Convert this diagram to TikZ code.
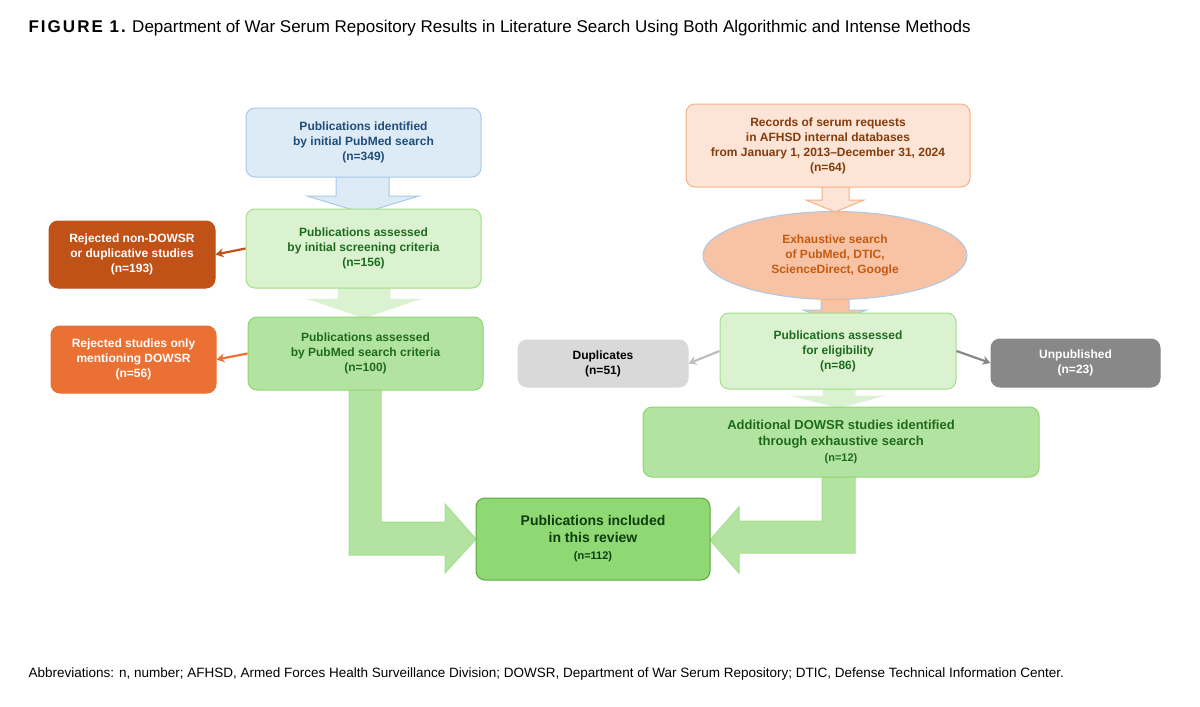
\documentclass[tikz,border=0pt]{standalone}
\usepackage{fontspec}
\setmainfont{Liberation Sans}
\usetikzlibrary{shapes.geometric,arrows.meta}
\definecolor{blF}{HTML}{DDEBF7}\definecolor{blD}{HTML}{A9C8EA}\definecolor{blT}{HTML}{1F4E79}
\definecolor{gLF}{HTML}{DAF2D0}\definecolor{gLD}{HTML}{A3DE88}\definecolor{gT}{HTML}{1E6B1E}
\definecolor{gMF}{HTML}{B3E3A0}\definecolor{gMD}{HTML}{8FD672}
\definecolor{gDF}{HTML}{8ED973}\definecolor{gDD}{HTML}{5AA83A}\definecolor{gDT}{HTML}{0F3D0F}
\definecolor{or1}{HTML}{C05117}\definecolor{or2}{HTML}{EA7133}
\definecolor{pkF}{HTML}{FCE4D6}\definecolor{pkD}{HTML}{F4B183}\definecolor{pkT}{HTML}{843C0C}
\definecolor{elF}{HTML}{F8C3A5}\definecolor{elT}{HTML}{C55A11}
\definecolor{gr1}{HTML}{D9D9D9}\definecolor{gr2}{HTML}{888888}
\begin{document}
\begin{tikzpicture}[x=1pt,y=-1pt,
 box/.style={rounded corners=9pt,draw,line width=1pt,align=center,font=\bfseries\fontsize{12}{15}\selectfont,inner sep=0pt},
 small/.style={line width=2.2pt,-{Stealth[length=8pt,width=9pt]}}]
\useasboundingbox (0,0) rectangle (1200,707);
\node[anchor=west,font=\fontsize{17}{20}\selectfont] (title) at (25,28) {{\bfseries\addfontfeature{LetterSpace=12}FIGURE 1.} Department of War Serum Repository Results in Literature Search Using Both Algorithmic and Intense Methods};
\node[anchor=west,font=\fontsize{13.5}{16}\selectfont] (foot) at (25,674) {Abbreviations: n, number; AFHSD, Armed Forces Health Surveillance Division; DOWSR, Department of War Serum Repository; DTIC, Defense Technical Information Center.};
% block arrows
\draw[blD,fill=blF,line width=1pt] (336,176)--(389,176)--(389,196)--(419,196)--(363,213)--(307,196)--(336,196)--cycle;
\draw[gLF!80!white,fill=gLF,line width=1pt] (338,287)--(390,287)--(390,299)--(420,299)--(364,318)--(308,299)--(338,299)--cycle;
\draw[gMD!80!white,fill=gMF,line width=1pt] (349,389)--(381,389)--(381,522)--(445,522)--(445,504)--(476,539)--(445,573)--(445,555)--(349,555)--cycle;
\draw[gMD!80!white,fill=gMF,line width=1pt] (822,476)--(855,476)--(855,553)--(739,553)--(739,573)--(710,540)--(739,507)--(739,521)--(822,521)--cycle;
\draw[pkD,fill=pkF,line width=1pt] (822,186)--(849,186)--(849,200)--(864,200)--(835,212)--(806,200)--(822,200)--cycle;
\draw[blD,fill=elF,line width=1pt] (821,298)--(849,298)--(849,310)--(867,310)--(835,322)--(803,310)--(821,310)--cycle;
\draw[gLF!80!white,fill=gLF,line width=1pt] (823,388)--(855,388)--(855,396)--(883,396)--(839,408)--(793,396)--(823,396)--cycle;
% boxes
\node[box,draw=blD,fill=blF,text=blT,minimum width=235pt,minimum height=69pt] (A) at (363.5,142.5) {Publications identified\\by initial PubMed search\\(n=349)};
\node[box,draw=gLD,fill=gLF,text=gT,minimum width=235pt,minimum height=79pt] (B) at (363.5,248.5) {Publications assessed\\by initial screening criteria\\(n=156)};
\node[box,draw=gMD,fill=gMF,text=gT,minimum width=235pt,minimum height=73pt] (C) at (365.5,353.5) {Publications assessed\\by PubMed search criteria\\(n=100)};
\node[box,draw=or1,fill=or1,text=white,minimum width=166pt,minimum height=67pt] (R1) at (132,254.5) {Rejected non-DOWSR\\or duplicative studies\\(n=193)};
\node[box,draw=or2,fill=or2,text=white,minimum width=165pt,minimum height=67pt] (R2) at (133.5,359.5) {Rejected studies only\\mentioning DOWSR\\(n=56)};
\node[box,draw=pkD,fill=pkF,text=pkT,minimum width=284pt,minimum height=83pt] (P) at (828,145.5) {Records of serum requests\\in AFHSD internal databases\\from January 1, 2013–December 31, 2024\\(n=64)};
\node[ellipse,draw=blD,fill=elF,text=elT,line width=1pt,minimum width=264pt,minimum height=88pt,align=center,inner sep=0pt,font=\bfseries\fontsize{12}{15}\selectfont] (El) at (835,255.5) {Exhaustive search\\of PubMed, DTIC,\\ScienceDirect, Google};
\node[box,draw=gLD,fill=gLF,text=gT,minimum width=236pt,minimum height=76pt] (D) at (838,351) {Publications assessed\\for eligibility\\(n=86)};
\node[box,draw=gr1,fill=gr1,text=black,minimum width=170pt,minimum height=47pt] (Du) at (603,363.5) {Duplicates\\(n=51)};
\node[box,draw=gr2,fill=gr2,text=white,minimum width=169pt,minimum height=48pt] (Un) at (1075.5,363) {Unpublished\\(n=23)};
\node[box,draw=gMD,fill=gMF,text=gT,minimum width=396pt,minimum height=70pt,font=\bfseries\fontsize{13}{16}\selectfont] (E) at (841,442) {Additional DOWSR studies identified\\through exhaustive search\\{\fontsize{11}{14}\selectfont(n=12)}};
\node[box,draw=gDD,fill=gDF,text=gDT,minimum width=234pt,minimum height=82pt,font=\bfseries\fontsize{14}{17}\selectfont] (F) at (593,539) {Publications included\\in this review\\{\fontsize{11}{15}\selectfont(n=112)}};
% small arrows
\draw[small,or1] (B.west) -- (R1.east);
\draw[small,or2] (C.west) -- (R2.east);
\draw[small,gr1!70!gray] (D.west) -- (Du.east);
\draw[small,gr2] (D.east) -- (Un.west);
\end{tikzpicture}
\end{document}
